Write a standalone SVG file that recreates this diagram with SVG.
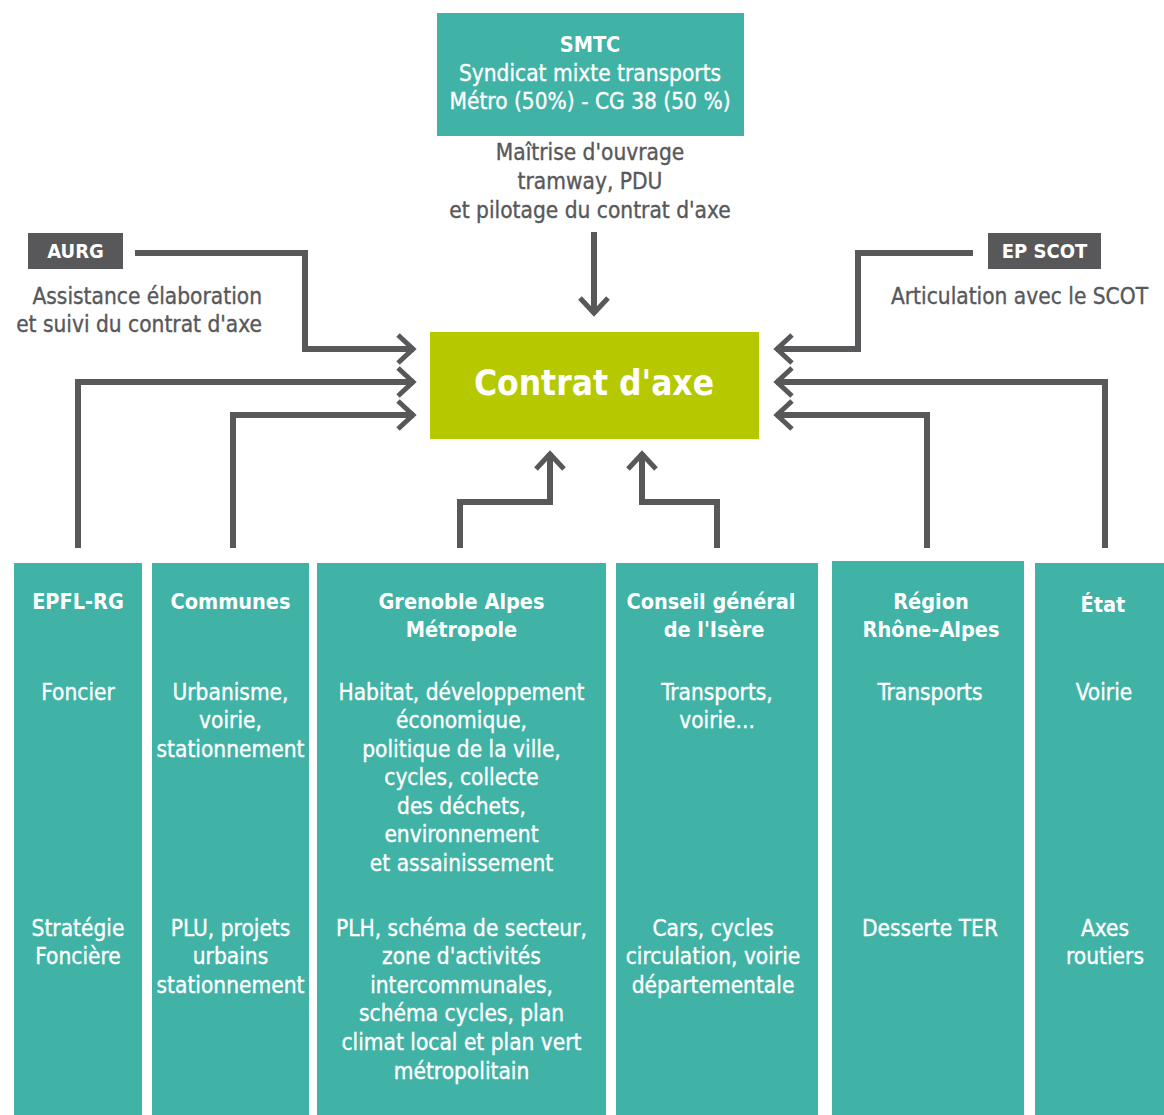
<svg xmlns="http://www.w3.org/2000/svg" width="1164" height="1115" viewBox="0 0 1164 1115">
<defs>
<style>
text{font-family:"DejaVu Sans Condensed","DejaVu Sans",sans-serif;text-anchor:middle}
.col{fill:#40b3a6}
.w{fill:#ffffff;font-size:22.5px;stroke:#ffffff;stroke-width:0.35}
.b{font-weight:bold;font-size:21.5px;stroke-width:0}
.bc{font-weight:bold;fill:#ffffff;font-size:20px}
.g{fill:#58585a;font-size:22.5px;stroke:#58585a;stroke-width:0.35}
.dark{fill:#58585a}
.ln{fill:none;stroke:#58585a;stroke-width:6}
</style>
<marker id="ah" viewBox="0 0 22 32" refX="19" refY="16" markerWidth="22" markerHeight="32" markerUnits="userSpaceOnUse" orient="auto">
<path d="M3 2 L18 16 L3 30" fill="none" stroke="#58585a" stroke-width="5"/>
</marker>
</defs>

<g id="connectors">
<path class="ln" d="M135 253 H305 V349 H414" marker-end="url(#ah)"/>
<path class="ln" d="M78 548 V382 H414" marker-end="url(#ah)"/>
<path class="ln" d="M233 548 V415 H414" marker-end="url(#ah)"/>
<path class="ln" d="M973 253 H858 V349 H776" marker-end="url(#ah)"/>
<path class="ln" d="M1105 548 V382 H776" marker-end="url(#ah)"/>
<path class="ln" d="M927 548 V415 H776" marker-end="url(#ah)"/>
<path class="ln" d="M460 548 V502 H550 V453" marker-end="url(#ah)"/>
<path class="ln" d="M717 548 V502 H642 V453" marker-end="url(#ah)"/>
<path class="ln" d="M594 232 V314" marker-end="url(#ah)"/>
</g>

<g id="smtc">
<rect class="col" x="437" y="13" width="307" height="123"/>
<text class="w b" x="590" y="52">SMTC</text>
<text class="w" x="590" y="81">Syndicat mixte transports</text>
<text class="w" x="590" y="109">Métro (50%) - CG 38 (50 %)</text>
<text class="g" x="590" y="160">Maîtrise d'ouvrage</text>
<text class="g" x="590" y="189">tramway, PDU</text>
<text class="g" x="590" y="218">et pilotage du contrat d'axe</text>
</g>

<g id="contrat">
<rect fill="#b5c800" x="430" y="332" width="329" height="107"/>
<text class="bc" style="font-size:35px" x="594" y="395">Contrat d'axe</text>
</g>

<g id="aurg">
<rect class="dark" x="28" y="233" width="95" height="36"/>
<text class="bc" x="75.5" y="258">AURG</text>
<text class="g" x="262" y="304" style="text-anchor:end">Assistance élaboration</text>
<text class="g" x="262" y="332" style="text-anchor:end">et suivi du contrat d'axe</text>
</g>

<g id="epscot">
<rect class="dark" x="988" y="233" width="113" height="36"/>
<text class="bc" x="1044.5" y="258">EP SCOT</text>
<text class="g" x="1019.5" y="304">Articulation avec le SCOT</text>
</g>

<g id="epfl">
<rect class="col" x="14" y="563" width="128" height="552"/>
<text class="w b" x="78" y="609">EPFL-RG</text>
<text class="w" x="78" y="700">Foncier</text>
<text class="w" x="78" y="936">Stratégie</text>
<text class="w" x="78" y="964">Foncière</text>
</g>

<g id="communes">
<rect class="col" x="152" y="563" width="157" height="552"/>
<text class="w b" x="230.5" y="609">Communes</text>
<text class="w" x="230.5" y="700">Urbanisme,</text>
<text class="w" x="230.5" y="728">voirie,</text>
<text class="w" x="230.5" y="757">stationnement</text>
<text class="w" x="230.5" y="936">PLU, projets</text>
<text class="w" x="230.5" y="964">urbains</text>
<text class="w" x="230.5" y="993">stationnement</text>
</g>

<g id="metropole">
<rect class="col" x="317" y="563" width="289" height="552"/>
<text class="w b" x="461.5" y="609">Grenoble Alpes</text>
<text class="w b" x="461.5" y="637">Métropole</text>
<text class="w" x="461.5" y="700">Habitat, développement</text>
<text class="w" x="461.5" y="728">économique,</text>
<text class="w" x="461.5" y="757">politique de la ville,</text>
<text class="w" x="461.5" y="785">cycles, collecte</text>
<text class="w" x="461.5" y="814">des déchets,</text>
<text class="w" x="461.5" y="842">environnement</text>
<text class="w" x="461.5" y="871">et assainissement</text>
<text class="w" x="461.5" y="936">PLH, schéma de secteur,</text>
<text class="w" x="461.5" y="964">zone d'activités</text>
<text class="w" x="461.5" y="993">intercommunales,</text>
<text class="w" x="461.5" y="1021">schéma cycles, plan</text>
<text class="w" x="461.5" y="1050">climat local et plan vert</text>
<text class="w" x="461.5" y="1079">métropolitain</text>
</g>

<g id="conseil">
<rect class="col" x="616" y="563" width="202" height="552"/>
<text class="w b" x="711" y="609">Conseil général</text>
<text class="w b" x="714" y="637">de l'Isère</text>
<text class="w" x="717" y="700">Transports,</text>
<text class="w" x="717" y="728">voirie...</text>
<text class="w" x="713" y="936">Cars, cycles</text>
<text class="w" x="713" y="964">circulation, voirie</text>
<text class="w" x="713" y="993">départementale</text>
</g>

<g id="region">
<rect class="col" x="832" y="561" width="192" height="554"/>
<text class="w b" x="931" y="609">Région</text>
<text class="w b" x="931" y="637">Rhône-Alpes</text>
<text class="w" x="930" y="700">Transports</text>
<text class="w" x="930" y="936">Desserte TER</text>
</g>

<g id="etat">
<rect class="col" x="1035" y="563" width="129" height="552"/>
<text class="w b" x="1103" y="612">État</text>
<text class="w" x="1104" y="700">Voirie</text>
<text class="w" x="1105" y="936">Axes</text>
<text class="w" x="1105" y="964">routiers</text>
</g>
</svg>
